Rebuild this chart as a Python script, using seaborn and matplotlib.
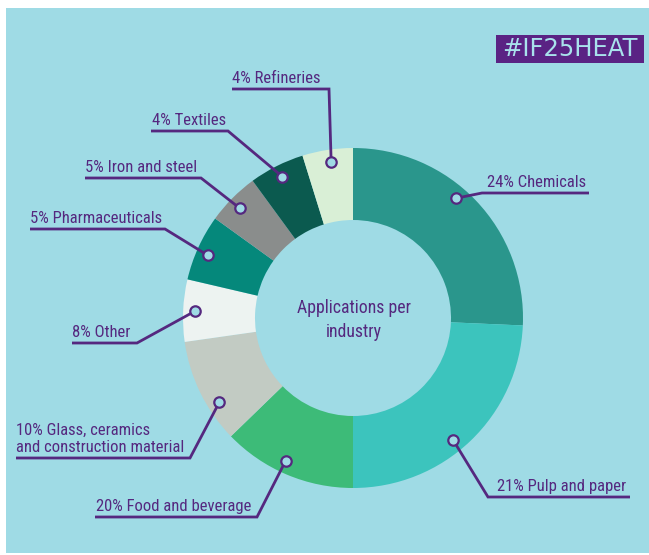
import matplotlib
matplotlib.use("Agg")
import matplotlib.pyplot as plt
from matplotlib import font_manager
from matplotlib.font_manager import FontProperties
from matplotlib.patches import Rectangle
import seaborn as sns
import numpy as np

# ---- data (clockwise from 12 o'clock) ----
industries = ["Chemicals", "Pulp and paper", "Food and beverage",
              "Glass, ceramics\nand construction material", "Other",
              "Pharmaceuticals", "Iron and steel", "Textiles", "Refineries"]
label_pct = [24, 21, 20, 10, 8, 5, 5, 4, 4]
# slice sizes as drawn in the infographic (share of the full circle, %)
drawn_share = [25.7, 24.3, 12.75, 10.0, 5.9, 6.3, 5.0, 5.25, 4.8]
slice_colors = ["#2a968c", "#3cc4bd", "#3dbb78", "#c2cbc3", "#edf3f1",
                "#05887b", "#8a8d8c", "#0b5a4f", "#d9efd6"]
center_title = "Applications per\nindustry"
hashtag = "#IF25HEAT"

# ---- style ----
sns.set_theme(style="white")
plt.rcParams["font.family"] = ["Roboto", "DejaVu Sans"]

# look for a narrow / condensed sans to mimic the condensed infographic face
cands = []
for f in font_manager.fontManager.ttflist:
    if f.style != "normal" or f.weight not in (400, "normal", "regular", 500, "medium"):
        continue
    nm = f.name
    fn = f.fname.lower()
    if "Liberation Sans Narrow" in nm or "liberationsansnarrow-regular" in fn:
        cands.append((0, f.fname, 12.6))
    elif "roboto" in fn and "condensed" in fn and "bold" not in fn and "light" not in fn and "italic" not in fn:
        cands.append((1, f.fname, 12.0))
    elif "dejavusanscondensed.ttf" in fn:
        cands.append((2, f.fname, 11.0))
cands.sort()
if cands:
    LABEL_FP = FontProperties(fname=cands[0][1], size=cands[0][2])
else:
    LABEL_FP = FontProperties(family=["Roboto", "DejaVu Sans"], size=11.0)
TITLE_FP = LABEL_FP.copy()
TITLE_FP.set_size(LABEL_FP.get_size() + 0.8)

W, H = 649, 555
BG = "#9fdbe5"
PURPLE = "#55287f"

fig = plt.figure(figsize=(W / 100, H / 100), dpi=100, facecolor="white")
ax = fig.add_axes([0, 0, 1, 1])


def P(x, y):
    """pixel position (y measured from top) -> axes data coords"""
    return x, H - y


# panel background
ax.add_patch(Rectangle((6, H - 553), W - 6, 545, facecolor=BG, edgecolor="none", zorder=0))

# donut
cx, cy = P(353, 318)
R_OUT, R_IN = 170, 98
wedges, _ = ax.pie(drawn_share, colors=slice_colors, startangle=90, counterclock=False,
                   center=(cx, cy), radius=R_OUT, frame=True,
                   wedgeprops=dict(width=R_OUT - R_IN, edgecolor="none", linewidth=0))
for w in wedges:
    w.set_zorder(2)

# label layout: (elbow point, far end of underline, text x) in pixels
layout = [
    ((482, 193), (589, 193), 487),
    ((488, 497), (630, 497), 497),
    ((257, 517), (95, 517), 96),
    ((190, 458), (16, 458), 16),
    ((137, 343), (72, 343), 72),
    ((165, 229), (30, 229), 30),
    ((201, 178), (85, 178), 85),
    ((228, 131), (151, 131), 152),
    ((329, 89), (232, 89), 232),
]
anchor_frac = [0.56, 0.45, 0.45, 0.67, 0.5, 0.55, 0.54, 0.49, 0.46]
R_DOT = 158

for w, name, pct, (elb, end, tx), fr in zip(wedges, industries, label_pct, layout, anchor_frac):
    ang = np.deg2rad(w.theta1 + fr * (w.theta2 - w.theta1))
    dx, dy = cx + R_DOT * np.cos(ang), cy + R_DOT * np.sin(ang)
    ex, ey = P(*elb)
    fx, fy = P(*end)
    ax.plot([dx, ex, fx], [dy, ey, fy], color=PURPLE, lw=2.0, solid_capstyle="butt",
            solid_joinstyle="miter", zorder=3)
    ax.plot(dx, dy, "o", ms=7.5, mfc=BG, mec=PURPLE, mew=1.6, zorder=4)
    lines = f"{pct}% {name}".split("\n")
    for i, line in enumerate(reversed(lines)):
        ax.text(tx, fy + 6 + i * 17, line, ha="left", va="baseline", color=PURPLE,
                fontproperties=LABEL_FP, zorder=5)

# centre title
ax.text(*P(354, 320), center_title, ha="center", va="center", color=PURPLE,
        fontproperties=TITLE_FP, linespacing=1.4, zorder=5)

# hashtag box
ax.add_patch(Rectangle((496, H - 63), 148, 28, facecolor="#5a2384", edgecolor="none", zorder=5))
ax.text(*P(570, 49.5), hashtag, ha="center", va="center", color="#a9e2ec",
        fontsize=17.5, family=["DejaVu Sans"], zorder=6)

ax.set_xlim(0, W)
ax.set_ylim(0, H)
ax.set_aspect("equal")
ax.set_axis_off()

fig.savefig("out.png", dpi=100, facecolor="white")
